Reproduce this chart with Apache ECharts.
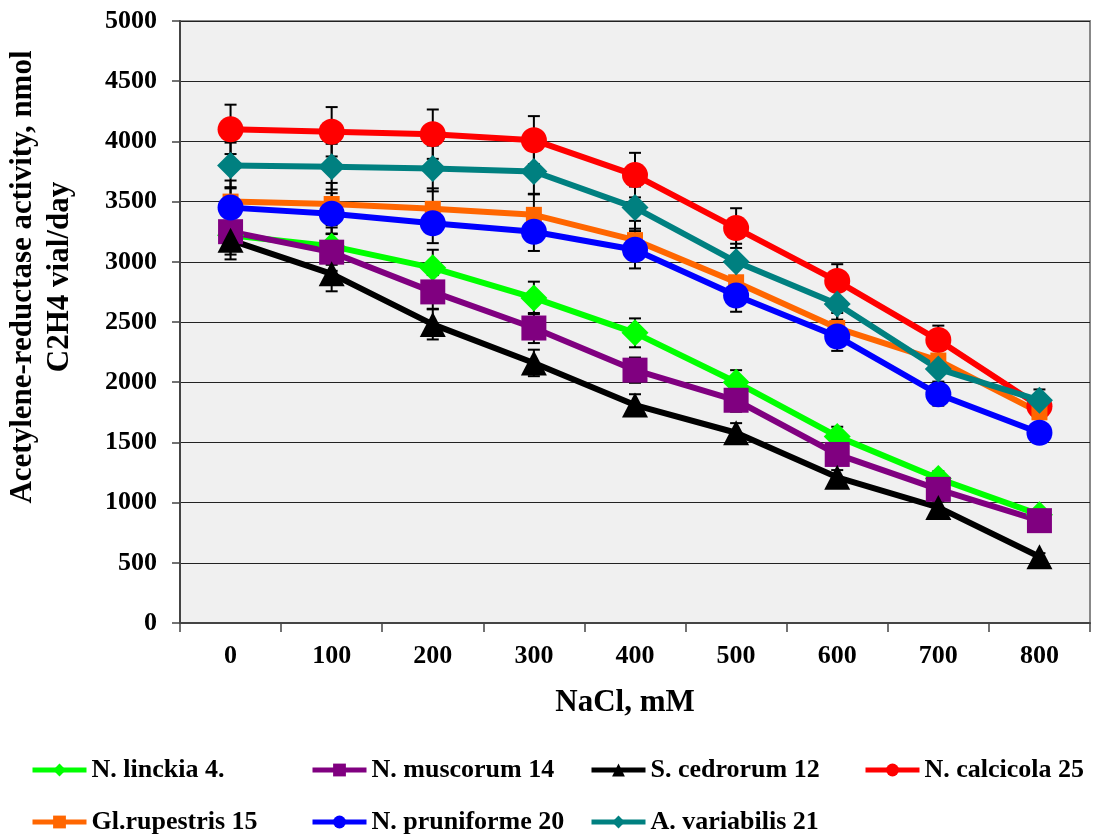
<!DOCTYPE html>
<html>
<head>
<meta charset="utf-8">
<script src="https://cdn.jsdelivr.net/npm/echarts@6/dist/echarts.min.js"></script>
<style>html,body{margin:0;padding:0;background:#fff}#c{width:1094px;height:838px}</style>
</head>
<body>
<div id="c"></div>
<script>
var categories = ['0','100','200','300','400','500','600','700','800'];
var yTicks = [0,500,1000,1500,2000,2500,3000,3500,4000,4500,5000];

var linckia = [3220, 3130, 2950, 2700, 2410, 2000, 1550, 1200, 900];
var linckiaErr = [160, 155, 150, 135, 120, 100, 80, 60, 45];
var muscorum = [3250, 3080, 2750, 2450, 2100, 1850, 1400, 1110, 850];
var muscorumErr = [160, 155, 140, 125, 105, 95, 70, 55, 45];
var cedrorum = [3180, 2900, 2480, 2160, 1810, 1580, 1210, 960, 550];
var cedrorumErr = [160, 145, 125, 110, 90, 80, 60, 50, 30];
var calcicola = [4100, 4080, 4060, 4010, 3720, 3280, 2840, 2350, 1800];
var calcicolaErr = [205, 205, 205, 200, 185, 165, 140, 120, 90];
var rupestris = [3500, 3480, 3440, 3390, 3180, 2830, 2450, 2180, 1750];
var rupestrisErr = [175, 175, 170, 170, 160, 140, 125, 110, 90];
var pruniforme = [3450, 3400, 3320, 3250, 3100, 2720, 2380, 1900, 1580];
var pruniformeErr = [170, 170, 165, 160, 155, 135, 120, 95, 80];
var variabilis = [3800, 3790, 3775, 3750, 3450, 3000, 2650, 2110, 1850];
var variabilisErr = [190, 190, 190, 185, 175, 150, 130, 105, 90];

var seriesDefs = [
  {name:'N. linckia 4.', data:linckia, err:linckiaErr, color:'#00ff00', symbol:'diamond', size:[27,27]},
  {name:'N. muscorum 14', data:muscorum, err:muscorumErr, color:'#800080', symbol:'rect', size:[25,25]},
  {name:'S. cedrorum 12', data:cedrorum, err:cedrorumErr, color:'#000000', symbol:'triangle', size:[26,25]},
  {name:'N. calcicola 25', data:calcicola, err:calcicolaErr, color:'#ff0000', symbol:'circle', size:[26,26]},
  {name:'Gl.rupestris 15', data:rupestris, err:rupestrisErr, color:'#ff6600', symbol:'rect', size:[16,16]},
  {name:'N. pruniforme 20', data:pruniforme, err:pruniformeErr, color:'#0000ff', symbol:'circle', size:[26,26]},
  {name:'A. variabilis 21', data:variabilis, err:variabilisErr, color:'#008080', symbol:'diamond', size:[27,27]}
];
var legendPos = [[30,757],[310,757],[589,757],[863,757],[30,809],[310,809],[589,809]];

var FONT = "'Liberation Serif','Times New Roman',serif";
var chart = echarts.init(document.getElementById('c'), null, {renderer:'canvas'});

var errData = [];
seriesDefs.forEach(function(s){
  s.data.forEach(function(v,i){ errData.push([i, v, s.err[i]]); });
});

var series = [{
  type:'custom', name:'err', z:1, silent:true,
  data: errData,
  encode:{x:0, y:1},
  renderItem:function(params, api){
    var i = api.value(0), v = api.value(1), e = api.value(2);
    var top = api.coord([i, v + e]);
    var bot = api.coord([i, v - e]);
    var hw = 6;
    var st = {stroke:'#000', lineWidth:2};
    return {type:'group', children:[
      {type:'line', shape:{x1:top[0], y1:top[1], x2:bot[0], y2:bot[1]}, style:st},
      {type:'line', shape:{x1:top[0]-hw, y1:top[1], x2:top[0]+hw, y2:top[1]}, style:st},
      {type:'line', shape:{x1:bot[0]-hw, y1:bot[1], x2:bot[0]+hw, y2:bot[1]}, style:st}
    ]};
  }
}];
seriesDefs.forEach(function(s){
  series.push({
    type:'line', name:s.name, data:s.data, z:2,
    symbol:s.symbol, symbolSize:s.size, showAllSymbol:true,
    lineStyle:{color:s.color, width:6},
    itemStyle:{color:s.color},
    emphasis:{disabled:true}, animation:false
  });
});

var legends = seriesDefs.map(function(s, k){
  return {
    data:[s.name], left:legendPos[k][0], top:legendPos[k][1], padding:0,
    itemWidth:54, itemHeight:16, selectedMode:false,
    lineStyle:{width:5},
    textStyle:{fontFamily:FONT, fontWeight:'bold', fontSize:26, color:'#000'}
  };
});

chart.setOption({
  animation:false,
  backgroundColor:'#ffffff',
  grid:{left:180, right:4, top:21, bottom:215, show:true, backgroundColor:'#f0f0f0', borderColor:'#888888', borderWidth:2},
  legend: legends,
  xAxis:{
    type:'category', data:categories, boundaryGap:true,
    axisLine:{lineStyle:{color:'#444', width:2}},
    axisTick:{show:true, length:9, alignWithLabel:false, lineStyle:{color:'#444', width:1.5}},
    axisLabel:{fontFamily:FONT, fontWeight:'bold', fontSize:26, color:'#000', margin:20},
    splitLine:{show:false}
  },
  yAxis:{
    type:'value', min:yTicks[0], max:yTicks[yTicks.length-1], interval:500,
    axisLine:{show:true, lineStyle:{color:'#444', width:2}},
    axisTick:{show:true, length:8, lineStyle:{color:'#444', width:1.5}},
    axisLabel:{fontFamily:FONT, fontWeight:'bold', fontSize:26, color:'#000', margin:23,
      formatter:function(v){ return String(v); }},
    splitLine:{show:true, lineStyle:{color:'#222', width:1.2}}
  },
  graphic:[
    {type:'text', z:10, rotation:Math.PI/2, x:41, y:277,
     style:{text:'Acetylene-reductase activity, nmol\nC2H4 vial/day', fontFamily:FONT, fontWeight:'bold', fontSize:31, lineHeight:37, fill:'#000', align:'center', verticalAlign:'middle'}},
    {type:'text', x:625, y:703, z:10,
     style:{text:'NaCl, mM', fontFamily:FONT, fontWeight:'bold', fontSize:31, fill:'#000', align:'center', verticalAlign:'middle'}}
  ],
  series: series
});
</script>
</body>
</html>
